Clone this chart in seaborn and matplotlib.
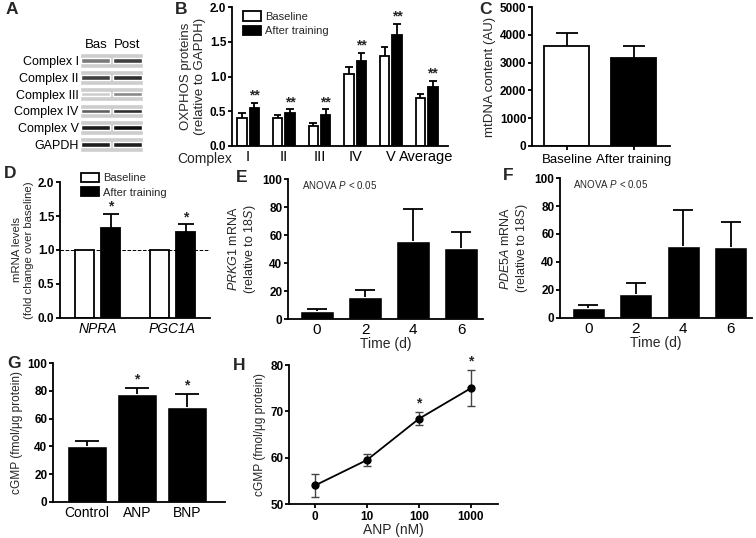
import pandas as pd
import matplotlib
matplotlib.use("Agg")
import matplotlib.pyplot as plt
import seaborn as sns
from matplotlib.patches import Patch

# ---- data ----
blot_rows = ["Complex I", "Complex II", "Complex III", "Complex IV", "Complex V", "GAPDH"]
blot_lanes = ["Bas", "Post"]
band_bas = [0.60, 0.80, 0.30, 0.70, 0.90, 0.90]
band_post = [0.80, 0.85, 0.55, 0.85, 0.95, 0.90]

complexes = ["I", "II", "III", "IV", "V", "Average"]
oxphos_base = [0.41, 0.40, 0.29, 1.03, 1.29, 0.69]
oxphos_base_err = [0.07, 0.05, 0.04, 0.10, 0.14, 0.06]
oxphos_post = [0.54, 0.47, 0.45, 1.23, 1.59, 0.855]
oxphos_post_err = [0.08, 0.06, 0.08, 0.11, 0.17, 0.085]

conditions = ["Baseline", "After training"]
mtdna = [3600, 3180]
mtdna_err = [480, 430]

genes = ["NPRA", "PGC1A"]
mrna_base = [1.0, 1.0]
mrna_post = [1.33, 1.26]
mrna_post_err = [0.20, 0.12]

days = ["0", "2", "4", "6"]
prkg1 = [6.0, 15.5, 56.0, 51.0]
prkg1_err = [1.0, 5.0, 22.5, 11.5]
pde5a = [7.5, 17.5, 51.5, 50.5]
pde5a_err = [1.5, 7.5, 25.5, 18.0]

treatments = ["Control", "ANP", "BNP"]
cgmp = [40.5, 78.0, 68.0]
cgmp_err = [3.5, 4.0, 10.0]

anp_doses = ["0", "10", "100", "1000"]
cgmp_dose = [54.0, 59.5, 68.4, 75.0]
cgmp_dose_err = [2.5, 1.3, 1.4, 3.9]

sns.set_theme(style="ticks")
plt.rcParams['font.family'] = ['Liberation Sans', 'DejaVu Sans']
plt.rcParams['mathtext.fontset'] = 'custom'
plt.rcParams['mathtext.rm'] = 'Liberation Sans'
plt.rcParams['mathtext.it'] = 'Liberation Sans:italic'
plt.rcParams['axes.linewidth'] = 1.3
plt.rcParams['axes.edgecolor'] = 'black'
plt.rcParams['xtick.color'] = 'black'
plt.rcParams['ytick.color'] = 'black'

W, H = 756, 538
fig = plt.figure(figsize=(W / 100, H / 100), dpi=100)


def box(x0, x1, y0, y1):
    # pixel box -> figure fraction
    return [x0 / W, 1 - y1 / H, (x1 - x0) / W, (y1 - y0) / H]


def style(ax, ylim, yticks, fmt="{:g}", xsize=10):
    sns.despine(ax=ax)
    ax.set_ylim(*ylim)
    ax.set_yticks(yticks)
    ax.set_yticklabels([fmt.format(v) for v in yticks], fontsize=8.5, fontweight="bold")
    ax.tick_params(axis="y", length=3, width=1.3, pad=1)
    ax.tick_params(axis="x", length=0, labelsize=xsize, pad=3)
    ax.set_xlabel("")


def upper_err(ax, container, errs, frac, lw=1.3):
    # error bar drawn only above the bar, cap as a fraction of the bar width
    for bar, e in zip(container, errs):
        w = bar.get_width()
        x = bar.get_x() + w / 2
        h = bar.get_height()
        ax.vlines(x, h, h + e, color="black", lw=lw, zorder=1)
        ax.hlines(h + e, x - frac * w / 2, x + frac * w / 2, color="black", lw=lw, zorder=1)


def stars(ax, container, errs, label, off, size=10):
    for bar, e in zip(container, errs):
        x = bar.get_x() + bar.get_width() / 2
        ax.text(x, bar.get_height() + e + off, label, ha="center", va="bottom",
                fontsize=size, fontweight="bold")


def letter(x, y, s):
    fig.text(x / W, 1 - y / H, s, fontsize=12.5, fontweight="bold", va="center", ha="left")


def two_legend(ax, anchor):
    ax.legend(handles=[Patch(facecolor="white", edgecolor="black", linewidth=1.3, label="Baseline"),
                       Patch(facecolor="black", edgecolor="black", linewidth=1.3, label="After training")],
              loc="upper left", bbox_to_anchor=anchor, frameon=False, fontsize=8,
              handlelength=1.6, handleheight=0.9, labelspacing=0.35, handletextpad=0.4,
              borderaxespad=0)


# -------------------------------
# A. western blot
# -------------------------------
ax = fig.add_axes(box(80, 143, 52, 153))
rows = list(range(len(blot_rows)))
ax.barh(rows, [2] * len(rows), left=0, height=0.88, color="#cdcdcd")
ax.barh(rows, [0.92] * len(rows), left=0.04, height=0.28,
        color=[plt.cm.Greys(v) for v in band_bas])
ax.barh(rows, [0.92] * len(rows), left=1.04, height=0.28,
        color=[plt.cm.Greys(v) for v in band_post])
ax.set_xlim(0, 2)
ax.set_ylim(len(rows) - 0.5, -0.5)
ax.set_yticks(rows)
ax.set_yticklabels(blot_rows, fontsize=9)
ax.set_xticks([0.5, 1.5])
ax.set_xticklabels(blot_lanes, fontsize=9.5)
ax.xaxis.tick_top()
ax.tick_params(length=0, pad=1)
for s in ax.spines.values():
    s.set_visible(False)

# -------------------------------
# B. OXPHOS proteins
# -------------------------------
ax = fig.add_axes(box(232, 448, 7, 146))
df_b = pd.DataFrame({
    "complex": complexes * 2,
    "value": oxphos_base + oxphos_post,
    "group": ["Baseline"] * len(complexes) + ["After training"] * len(complexes),
})
sns.barplot(data=df_b, x="complex", y="value", hue="group", palette=["white", "black"],
            saturation=1, edgecolor="black", linewidth=1.3, width=0.7, gap=0.25,
            errorbar=None, legend=False, ax=ax)
upper_err(ax, ax.containers[0], oxphos_base_err, 0.8)
upper_err(ax, ax.containers[1], oxphos_post_err, 0.8)
stars(ax, ax.containers[1], oxphos_post_err, "**", 0.0)
style(ax, (0, 2), [0, 0.5, 1.0, 1.5, 2.0], "{:.1f}", xsize=10.5)
ax.set_xlim(-0.45, 5.6)
ax.set_ylabel("OXPHOS proteins\n(relative to GAPDH)", fontsize=9.5, labelpad=3)
two_legend(ax, (0.03, 1.0))
fig.text(205 / W, 1 - 159 / H, "Complex", fontsize=10, ha="center", va="center")

# -------------------------------
# C. mtDNA content
# -------------------------------
ax = fig.add_axes(box(532, 670, 7, 146))
sns.barplot(x=conditions, y=mtdna, hue=conditions, palette=["white", "black"], saturation=1,
            edgecolor="black", linewidth=1.3, width=0.67, errorbar=None, legend=False, ax=ax)
for cont, e in zip(ax.containers, mtdna_err):
    upper_err(ax, cont, [e], 0.5)
style(ax, (0, 5000), [0, 1000, 2000, 3000, 4000, 5000], xsize=9.5)
ax.set_xlim(-0.52, 1.54)
ax.tick_params(axis="x", length=3, width=1.3)
ax.set_ylabel("mtDNA content (AU)", fontsize=9.5, labelpad=3)

# -------------------------------
# D. mRNA levels
# -------------------------------
ax = fig.add_axes(box(60, 210, 182, 318))
df_d = pd.DataFrame({
    "gene": genes * 2,
    "value": mrna_base + mrna_post,
    "group": ["Baseline"] * len(genes) + ["After training"] * len(genes),
})
sns.barplot(data=df_d, x="gene", y="value", hue="group", palette=["white", "black"],
            saturation=1, edgecolor="black", linewidth=1.3, width=0.7, gap=0.25,
            errorbar=None, legend=False, ax=ax)
upper_err(ax, ax.containers[1], mrna_post_err, 0.8)
stars(ax, ax.containers[1], mrna_post_err, "*", 0.0)
ax.axhline(1.0, ls="--", lw=0.7, color="black", zorder=0)
style(ax, (0, 2), [0, 0.5, 1.0, 1.5, 2.0], "{:.1f}")
ax.set_xlim(-0.5, 1.5)
ax.set_xticks(range(len(genes)))
ax.set_xticklabels(genes, fontsize=10, fontstyle="italic")
ax.set_ylabel("mRNA levels\n(fold change over baseline)", fontsize=8.2, labelpad=3)
two_legend(ax, (0.11, 1.1))

# -------------------------------
# E / F. time course
# -------------------------------
for pos, vals, errs, gene in [((288, 483, 179, 319), prkg1, prkg1_err, "PRKG1"),
                              ((560, 752, 178, 318), pde5a, pde5a_err, "PDE5A")]:
    ax = fig.add_axes(box(*pos))
    sns.barplot(x=days, y=vals, color="black", saturation=1, width=0.7,
                errorbar=None, ax=ax)
    upper_err(ax, ax.containers[0], errs, 0.6)
    style(ax, (0, 100), [0, 20, 40, 60, 80, 100], xsize=11)
    ax.set_xlim(-0.6, 3.45)
    ax.set_xlabel("Time (d)", fontsize=10, labelpad=0)
    ax.set_ylabel("$\\mathit{%s}$ mRNA\n(relative to $\\mathit{18S}$)" % gene, fontsize=9, labelpad=3)
    ax.text(0.07, 0.96, "ANOVA $\\mathit{P}$ < 0.05", transform=ax.transAxes,
            fontsize=7, va="center", ha="left")

# -------------------------------
# G. cGMP by peptide
# -------------------------------
ax = fig.add_axes(box(53, 225, 363, 502))
sns.barplot(x=treatments, y=cgmp, color="black", saturation=1, width=0.8,
            errorbar=None, ax=ax)
upper_err(ax, ax.containers[0], cgmp_err, 0.6)
stars(ax, list(ax.containers[0])[1:], cgmp_err[1:], "*", 1)
style(ax, (0, 100), [0, 20, 40, 60, 80, 100], xsize=10)
ax.set_xlim(-0.68, 2.76)
ax.set_ylabel("cGMP (fmol/μg protein)", fontsize=8.6, labelpad=3)

# -------------------------------
# H. ANP dose response
# -------------------------------
ax = fig.add_axes(box(289, 498, 365, 504))
sns.pointplot(x=anp_doses, y=cgmp_dose, color="black", errorbar=None,
              markersize=5, linewidth=1.3, ax=ax)
ax.errorbar(anp_doses, cgmp_dose, yerr=cgmp_dose_err, fmt="none", ecolor="#444444",
            elinewidth=1, capsize=3, capthick=1, zorder=1)
for i in [2, 3]:
    ax.text(i, cgmp_dose[i] + cgmp_dose_err[i] + 0.4, "*", ha="center", va="bottom",
            fontsize=10, fontweight="bold")
style(ax, (50, 80), [50, 60, 70, 80])
ax.set_xlim(-0.5, 3.52)
ax.tick_params(axis="x", length=3, width=1.3, labelsize=8.5, pad=2)
for t in ax.get_xticklabels():
    t.set_fontweight("bold")
ax.set_xlabel("ANP (nM)", fontsize=10, labelpad=0)
ax.set_ylabel("cGMP (fmol/μg protein)", fontsize=8.6, labelpad=3)

for x, y, s in [(6, 10, "A"), (175, 10, "B"), (479, 10, "C"), (4, 173, "D"),
                (236, 177, "E"), (503, 176, "F"), (7, 364, "G"), (233, 365, "H")]:
    letter(x, y, s)

fig.savefig("out.png", dpi=100)
